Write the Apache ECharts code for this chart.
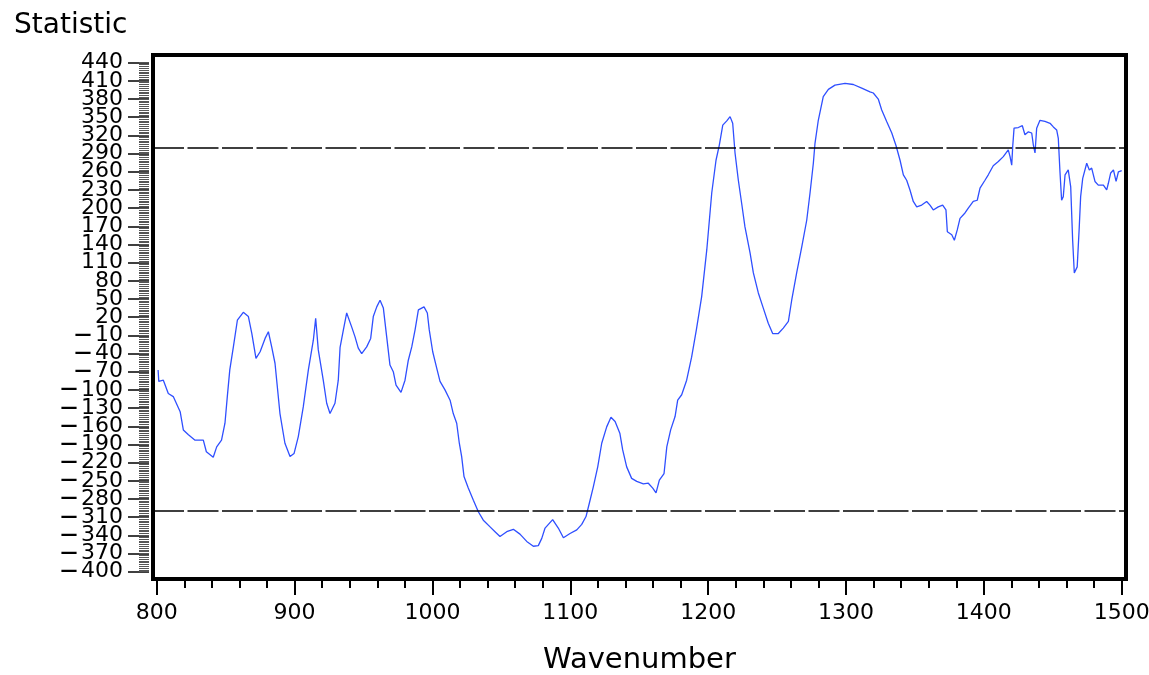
<!DOCTYPE html>
<html>
<head>
<meta charset="utf-8">
<script src="https://cdn.jsdelivr.net/npm/echarts@6/dist/echarts.min.js"></script>
<style>
html,body{margin:0;padding:0;background:#fff;}
#chart{width:1149px;height:675px;}
</style>
</head>
<body>
<div id="chart"></div>
<script>
const wavenumbers = [801,801.5,804.8,808.4,812,817,819.3,823,827.8,833.8,836,841,843.5,847,849.5,851.2,853,855.6,858.5,862.8,866.5,869,872,875,878.6,881,883.4,885.8,889.4,893,896.7,899.6,902.7,906.3,910,913.6,915.3,917.2,920.8,923.3,925.7,929.3,931.7,933,935.4,937.8,941.4,943.8,946.2,948.7,952.3,955.2,957.1,959.6,962,964.4,966.8,969.2,971.6,973.6,977.2,980.1,982.5,985,987.4,989.8,993.9,996.3,997.7,1000.2,1003.1,1005.5,1009.1,1012.8,1015.1,1017.6,1019.5,1021.2,1022.9,1026,1029.7,1033.3,1036.9,1041.8,1045.4,1049,1053.9,1058.7,1063.5,1068.4,1073.2,1076.8,1079.3,1081.7,1087.2,1091.3,1095,1099.8,1104.7,1108.3,1111.4,1113.8,1116.7,1119.9,1122.8,1126.4,1129.5,1132.5,1136,1138,1140.9,1144.5,1148.2,1153,1156.6,1159.8,1162.2,1164.6,1168,1170,1172.8,1176,1177.9,1180.8,1184.4,1188,1191.5,1195.3,1199,1202.6,1205.7,1208.1,1210.6,1213.5,1215.9,1217.8,1219.5,1221.9,1224.3,1226.7,1230.4,1232.8,1236.4,1240,1243.6,1246.8,1250.9,1254.5,1258.2,1260.6,1264.2,1267.9,1271.5,1273.9,1276.3,1277.5,1279.9,1283.5,1287.2,1292,1299.3,1305.3,1311.4,1317.4,1319.8,1323.4,1325.9,1329.5,1333.2,1336.3,1339.2,1341.6,1344,1346.4,1348.8,1351.3,1354.9,1358.5,1360.9,1363.3,1366.9,1370.1,1372.5,1373.5,1376.7,1378.6,1380.7,1382.7,1386.3,1388.7,1392.3,1395.2,1397.2,1400.8,1403.2,1406.8,1410.5,1414.1,1417.7,1419,1420.2,1420.9,1421.9,1425,1427.9,1429.8,1432.3,1434.7,1435.9,1437.1,1438.3,1440.7,1444.3,1448,1450.4,1452.8,1454,1455.2,1456.4,1457.6,1458.9,1461.2,1463,1464.4,1465.6,1467.7,1469.2,1470.2,1471.7,1474.6,1476.5,1478.2,1480.6,1483,1486.7,1489.1,1490.3,1492,1494,1495.9,1497.6,1500];
const statistic = [-67,-86,-84,-106,-111,-136,-166,-174,-183,-183,-202,-211,-194,-183,-155,-111,-67,-29,15,28,21,-7,-48,-37,-15,-4,-29,-56,-139,-188,-210,-205,-177,-128,-67,-18,18,-34,-84,-122,-139,-122,-84,-30,-1,27,4,-12,-31,-40,-29,-15,21,37,48,35,-12,-59,-70,-92,-104,-84,-51,-29,-1,32,37,27,-1,-37,-64,-86,-100,-117,-139,-155,-188,-210,-243,-262,-282,-301,-315,-326,-334,-342,-334,-330,-338,-350,-358,-357,-345,-328,-314,-328,-344,-337,-331,-322,-309,-287,-260,-227,-188,-161,-145,-152,-172,-199,-227,-246,-251,-255,-254,-262,-270,-249,-238,-194,-166,-144,-117,-108,-84,-46,0,54,131,225,279,304,337,344,351,340,291,246,208,169,126,93,60,35,10,-7,-7,2,13,48,93,136,180,225,274,307,345,384,396,403,406,404,398,392,390,380,362,343,324,303,279,255,246,230,211,202,205,211,205,197,202,205,197,161,156,147,164,183,192,200,211,213,233,246,255,270,277,285,296,285,271,301,332,333,336,321,326,324,304,291,332,345,343,340,334,329,315,260,213,219,255,263,235,147,93,103,169,219,249,274,263,266,244,238,238,230,241,258,263,244,260,262];

const xTickLabels = [800,900,1000,1100,1200,1300,1400,1500];
const yTickLabels = [-400,-370,-340,-310,-280,-250,-220,-190,-160,-130,-100,-70,-40,-10,20,50,80,110,140,170,200,230,260,290,320,350,380,410,440];
const referenceLines = [300,-300];

// split labels into two interleaved sets so the library doesn't hide overlapping neighbours
const yLabelsA = yTickLabels.filter((v, i) => i % 2 === 0);
const yLabelsB = yTickLabels.filter((v, i) => i % 2 === 1);

const xMinorTicks = [];
for (let v = 800; v <= 1500; v += 20) xMinorTicks.push(v);
const yMinorTicks = [];
for (let v = -400; v <= 440; v += 3) yMinorTicks.push(v);

const FONT = 'DejaVu Sans';
const X_MIN = 797.3, X_MAX = 1503.1, Y_MIN = -412.05, Y_MAX = 452.7;

const yLabelStyle = {
  margin: 26, fontFamily: FONT, fontSize: 22, color: '#000',
  showMinLabel: true, showMaxLabel: true,
  formatter: function (v) { return v < 0 ? '{d|\u2014\u2009}' + (-v) : String(v); },
  rich: {d: {fontFamily: FONT, fontSize: 17, fontWeight: 'bold', color: '#000'}}
};

const chart = echarts.init(document.getElementById('chart'), null, {renderer: 'canvas'});
chart.setOption({
  animation: false,
  backgroundColor: '#fff',
  title: {
    text: 'Statistic', left: 9, top: 7,
    textStyle: {fontFamily: FONT, fontSize: 28, fontWeight: 'normal', color: '#000'}
  },
  grid: {
    left: 153, top: 55, width: 973, height: 524,
    outerBoundsMode: 'none', containLabel: false,
    show: true, borderColor: '#000', borderWidth: 4, backgroundColor: 'transparent'
  },
  xAxis: [{
    type: 'value', min: X_MIN, max: X_MAX, position: 'bottom',
    name: 'Wavenumber', nameLocation: 'middle', nameGap: 67,
    nameTextStyle: {fontFamily: FONT, fontSize: 29, color: '#000'},
    axisLine: {show: false, onZero: false},
    splitLine: {show: false},
    axisTick: {show: true, customValues: xTickLabels, length: 16, lineStyle: {color: '#000', width: 2}},
    axisLabel: {customValues: xTickLabels, margin: 23, fontFamily: FONT, fontSize: 22, color: '#000',
      showMinLabel: true, showMaxLabel: true,
      formatter: function (v) { return String(v); }}
  }, {
    type: 'value', min: X_MIN, max: X_MAX, position: 'bottom',
    axisLine: {show: false, onZero: false}, splitLine: {show: false},
    axisTick: {show: true, customValues: xMinorTicks, length: 9, lineStyle: {color: '#000', width: 2}},
    axisLabel: {show: false}
  }],
  yAxis: [{
    type: 'value', min: Y_MIN, max: Y_MAX, position: 'left', offset: 4,
    axisLine: {show: false, onZero: false}, splitLine: {show: false},
    axisTick: {show: true, customValues: yTickLabels, length: 21, lineStyle: {color: '#000', width: 1.5}},
    axisLabel: Object.assign({customValues: yLabelsA}, yLabelStyle)
  }, {
    type: 'value', min: Y_MIN, max: Y_MAX, position: 'left', offset: 4,
    axisLine: {show: false, onZero: false}, splitLine: {show: false},
    axisTick: {show: true, customValues: yMinorTicks, length: 10, lineStyle: {color: '#555', width: 1}},
    axisLabel: Object.assign({customValues: yLabelsB}, yLabelStyle)
  }],
  series: [{
    type: 'line',
    xAxisIndex: 0, yAxisIndex: 0,
    data: wavenumbers.map((w, i) => [w, statistic[i]]),
    showSymbol: false,
    lineStyle: {color: '#2f4fff', width: 1.3},
    markLine: {
      silent: true, symbol: 'none', label: {show: false},
      lineStyle: {color: '#000', width: 1.5, type: [31, 3.5]},
      data: referenceLines.map(v => ({yAxis: v}))
    }
  }]
});
</script>
</body>
</html>
